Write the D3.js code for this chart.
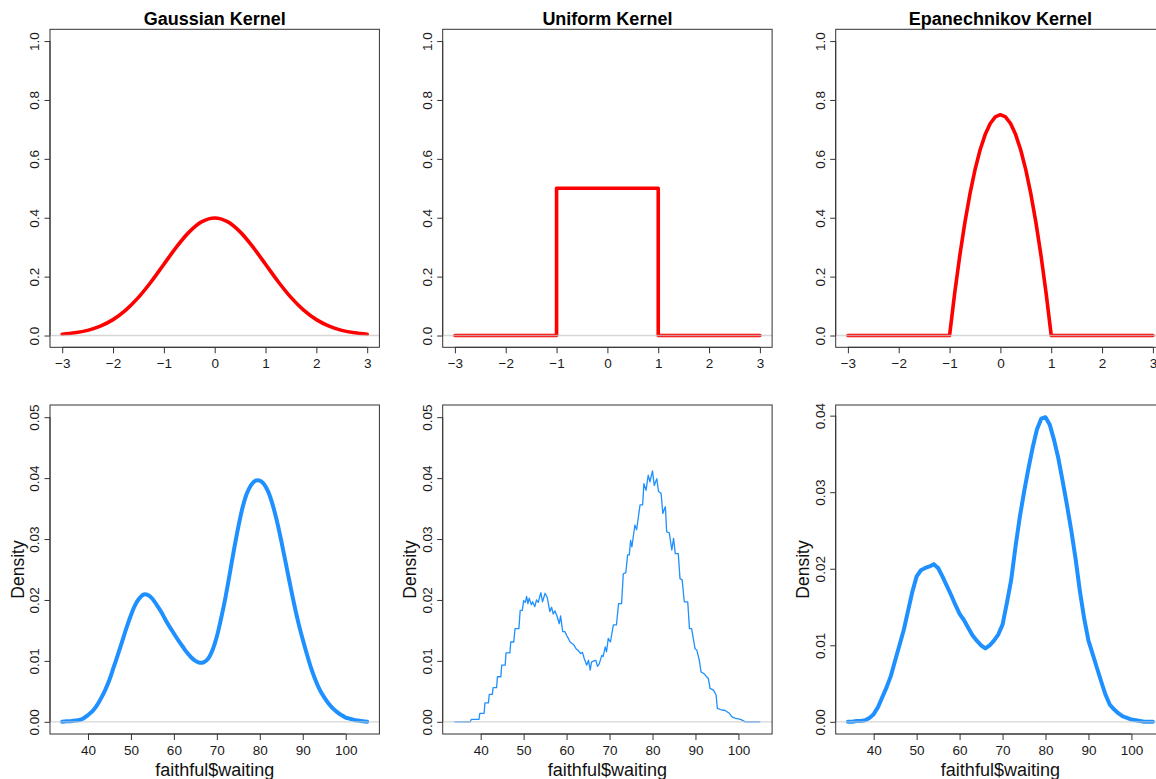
<!DOCTYPE html>
<html><head><meta charset="utf-8">
<script src="https://cdn.jsdelivr.net/npm/d3@7"></script>
<style>
html,body{margin:0;padding:0;background:#fff;}
svg{display:block;font-family:"Liberation Sans",Arial,Helvetica,sans-serif;}
</style></head>
<body><svg id="chart" width="1156" height="779"></svg>
<script>
// ---------- data ----------
const kernelTitles = ["Gaussian Kernel", "Uniform Kernel", "Epanechnikov Kernel"];
const kernelXTicks = [-3, -2, -1, 0, 1, 2, 3];
const kernelYTicks = [0, 0.2, 0.4, 0.6, 0.8, 1.0];
const kernelXLim = [-3, 3];
const kernelYLim = [0, 1];

const gaussKernelX = [-3,-2.75,-2.5,-2.25,-2,-1.75,-1.5,-1.25,-1,-0.75,-0.5,-0.25,0,0.25,0.5,0.75,1,1.25,1.5,1.75,2,2.25,2.5,2.75,3];
const gaussKernelY = [0.0044,0.0091,0.0175,0.0317,0.0540,0.0863,0.1295,0.1826,0.2420,0.3011,0.3521,0.3867,0.3989,0.3867,0.3521,0.3011,0.2420,0.1826,0.1295,0.0863,0.0540,0.0317,0.0175,0.0091,0.0044];

const uniformKernelX = [-3, -1, -1, 1, 1, 3];
const uniformKernelY = [0, 0, 0.5, 0.5, 0, 0];

const epanKernelX = [-3,-1,-0.9,-0.8,-0.7,-0.6,-0.5,-0.4,-0.3,-0.2,-0.1,0,0.1,0.2,0.3,0.4,0.5,0.6,0.7,0.8,0.9,1,3];
const epanKernelY = [0,0,0.1425,0.27,0.3825,0.48,0.5625,0.63,0.6825,0.72,0.7425,0.75,0.7425,0.72,0.6825,0.63,0.5625,0.48,0.3825,0.27,0.1425,0,0];

const waitingXTicks = [40, 50, 60, 70, 80, 90, 100];
const waitingXLim = [34, 105];
const densityYTicksA = [0, 0.01, 0.02, 0.03, 0.04, 0.05];
const densityYTicksB = [0, 0.01, 0.02, 0.03, 0.04];
const densityYLimA = [0, 0.05];
const densityYLimB = [0, 0.0398];

const gaussDensX = [34,35,36,37,38,39,40,41,42,43,44,45,46,47,48,49,50,51,52,53,54,55,56,57,58,59,60,61,62,63,64,65,66,67,68,69,70,71,72,73,74,75,76,77,78,79,80,81,82,83,84,85,86,87,88,89,90,91,92,93,94,95,96,97,98,99,100,101,102,103,104,105];
const gaussDensY = [0.0000,0.0001,0.0001,0.0002,0.0003,0.0006,0.0011,0.0017,0.0026,0.0038,0.0052,0.0069,0.0090,0.0111,0.0133,0.0155,0.0175,0.0192,0.0203,0.0209,0.0208,0.0202,0.0192,0.0181,0.0168,0.0156,0.0145,0.0134,0.0124,0.0114,0.0106,0.0100,0.0097,0.0098,0.0104,0.0118,0.0140,0.0170,0.0204,0.0243,0.0283,0.0320,0.0352,0.0375,0.0389,0.0396,0.0396,0.0390,0.0377,0.0356,0.0329,0.0297,0.0262,0.0227,0.0193,0.0162,0.0135,0.0110,0.0087,0.0068,0.0052,0.0040,0.0030,0.0022,0.0016,0.0011,0.0007,0.0005,0.0003,0.0002,0.0001,0.0000];

const uniformDensX = [34,37.6,37.8,39.6,39.8,40.8,41.0,41.8,42.0,42.7,42.9,43.7,43.9,44.7,44.9,45.7,45.9,46.8,47.0,47.7,48.0,48.9,49.2,49.7,50.0,50.4,50.7,51.0,51.3,51.8,52.1,52.6,53.0,53.4,54.0,54.4,55.0,55.5,56.1,56.5,56.9,57.3,57.7,58.3,58.6,59.1,59.6,60.0,60.4,60.8,61.2,61.6,62.2,62.7,63.3,63.7,64.1,64.7,65.1,65.5,65.8,66.3,66.8,67.2,67.6,68.2,68.5,69.0,69.3,69.7,70.2,70.9,71.6,72.1,72.8,73.2,73.8,74.2,74.6,74.9,75.2,75.9,76.3,77.1,77.7,78.0,78.5,79.0,79.4,80.0,80.4,81.0,81.4,82.0,82.4,82.8,83.0,83.3,83.9,84.5,84.9,85.3,86.0,86.4,86.9,87.4,88.2,88.6,89.1,89.9,90.3,90.9,91.3,92.0,92.6,93.0,93.4,94.2,94.8,95.1,96.3,96.8,97.9,98.5,99.2,100.5,101.6,105];
const uniformDensY = [0,0,0.0004,0.0004,0.0014,0.0014,0.0031,0.0031,0.0045,0.0045,0.0056,0.0056,0.0074,0.0074,0.0093,0.0093,0.0113,0.0113,0.0131,0.0131,0.0153,0.0153,0.0183,0.0183,0.0199,0.0196,0.0206,0.0194,0.0203,0.0192,0.0197,0.0189,0.0200,0.0196,0.0212,0.0197,0.0211,0.0204,0.0181,0.0188,0.0177,0.0182,0.0175,0.0161,0.0174,0.0148,0.0148,0.0142,0.0137,0.0131,0.0129,0.0127,0.0120,0.0117,0.0112,0.0114,0.0104,0.0093,0.0101,0.0085,0.0098,0.0100,0.0101,0.0091,0.0095,0.0109,0.0107,0.0123,0.0115,0.0137,0.0131,0.0159,0.0159,0.0194,0.0194,0.0243,0.0245,0.0274,0.0274,0.0298,0.0287,0.0323,0.0315,0.0356,0.0356,0.0391,0.0380,0.0405,0.0394,0.0412,0.0388,0.0399,0.0378,0.0375,0.0342,0.0350,0.0353,0.0312,0.0310,0.0282,0.0301,0.0276,0.0276,0.0235,0.0233,0.0197,0.0197,0.0153,0.0153,0.0120,0.0118,0.0101,0.0082,0.0079,0.0074,0.0071,0.0055,0.0052,0.0044,0.0022,0.0019,0.0019,0.0014,0.0008,0.0006,0.0004,0,0];

const epanDensX = [34,35,36,37,38,39,40,41,42,43,44,45,46,47,48,49,50,51,52,53,54,55,56,57,58,59,60,61,62,63,64,65,66,67,68,69,70,71,72,73,74,75,76,77,78,79,80,81,82,83,84,85,86,87,88,89,90,91,92,93,94,95,96,97,98,99,100,101,102,103,104,105];
const epanDensY = [0,0,0.0001,0.0001,0.0002,0.0005,0.0010,0.0019,0.0032,0.0045,0.0060,0.0080,0.0100,0.0120,0.0145,0.0170,0.0190,0.0198,0.0201,0.0203,0.0206,0.0201,0.0190,0.0178,0.0166,0.0153,0.0141,0.0133,0.0123,0.0113,0.0106,0.0100,0.0096,0.0100,0.0106,0.0114,0.0127,0.0155,0.0185,0.0228,0.0267,0.0300,0.0330,0.0358,0.0382,0.0396,0.0398,0.0388,0.0368,0.0344,0.0314,0.0283,0.0250,0.0213,0.0171,0.0135,0.0106,0.0088,0.0070,0.0052,0.0035,0.0022,0.0016,0.0011,0.0007,0.0005,0.0003,0.0002,0.0001,0,0,0];

// ---------- layout ----------
const svg = d3.select("#chart");
const colLeft = [50, 442.7, 835.7];
const panelW = 329.4;
const rowBox = [{top: 29.3, bottom: 347.3}, {top: 405, bottom: 734}];

function pad(lim) { const d = (lim[1] - lim[0]) * 0.04; return [lim[0] - d, lim[1] + d]; }
function zip(xs, ys) { return xs.map((x, i) => [x, ys[i]]); }
function fmtTick(dec) { return v => d3.format("." + dec + "f")(v).replace("-", "\u2212"); }

function panel(opts) {
  const L = opts.left, T = opts.top, B = opts.bottom, R = L + panelW;
  const x = d3.scaleLinear().domain(pad(opts.xlim)).range([L, R]);
  const y = d3.scaleLinear().domain(pad(opts.ylim)).range([B, T]);
  const g = svg.append("g");

  // x axis
  const xa = d3.axisBottom(x).tickValues(opts.xticks).tickSize(6).tickFormat(fmtTick(0));
  const gx = g.append("g").attr("transform", `translate(0,${B})`).call(xa);
  gx.select(".domain").attr("d", `M${x(opts.xticks[0])},0H${x(opts.xticks[opts.xticks.length-1])}`).attr("stroke", "#333");
  gx.selectAll(".tick line").attr("stroke", "#333");
  gx.selectAll(".tick text").attr("y", 20.5).attr("dy", null)
    .attr("font-size", 13.5).attr("fill", "#1a1a1a").attr("font-family", '"Liberation Sans",Arial,sans-serif');

  // y axis
  const ya = d3.axisLeft(y).tickValues(opts.yticks).tickSize(5.5).tickFormat(fmtTick(opts.ydec));
  const gy = g.append("g").attr("transform", `translate(${L},0)`).call(ya);
  gy.select(".domain").attr("d", `M0,${y(opts.yticks[0])}V${y(opts.yticks[opts.yticks.length-1])}`).attr("stroke", "#333");
  gy.selectAll(".tick line").attr("stroke", "#333");
  gy.selectAll(".tick text")
    .attr("x", null).attr("dy", null).attr("text-anchor", "middle")
    .attr("transform", "translate(-11,0) rotate(-90)")
    .attr("font-size", 13.5).attr("fill", "#1a1a1a").attr("font-family", '"Liberation Sans",Arial,sans-serif');

  // curve
  const line = d3.line().x(d => x(d[0])).y(d => y(d[1])).curve(opts.curve || d3.curveLinear);
  g.append("path").datum(opts.data).attr("d", line)
    .attr("fill", "none").attr("stroke", opts.color).attr("stroke-width", opts.lw)
    .attr("stroke-linejoin", "round").attr("stroke-linecap", "round");

  // zero line
  g.append("line").attr("x1", L).attr("x2", R).attr("y1", y(0)).attr("y2", y(0))
    .attr("stroke", "#c8c8c8").attr("stroke-width", 1.3).attr("stroke-opacity", 0.75);

  // box
  g.append("rect").attr("x", L).attr("y", T).attr("width", R - L).attr("height", B - T)
    .attr("fill", "none").attr("stroke", "#333").attr("stroke-width", 1);

  if (opts.title) {
    g.append("text").attr("x", (L + R) / 2).attr("y", 25).attr("text-anchor", "middle")
      .attr("font-size", 18).attr("font-weight", "bold").attr("fill", "#000").text(opts.title);
  }
  if (opts.xlab) {
    g.append("text").attr("x", (L + R) / 2).attr("y", 776).attr("text-anchor", "middle")
      .attr("font-size", 18).attr("fill", "#111").text(opts.xlab);
  }
  if (opts.ylab) {
    g.append("text").attr("transform", `translate(${L - 26.5},${(T + B) / 2}) rotate(-90)`)
      .attr("text-anchor", "middle").attr("font-size", 17.5).attr("fill", "#111").text(opts.ylab);
  }
}

const red = "#FF0000", blue = "#1E90FF";
const kernelData = [zip(gaussKernelX, gaussKernelY), zip(uniformKernelX, uniformKernelY), zip(epanKernelX, epanKernelY)];
const kernelCurves = [d3.curveCatmullRom, d3.curveLinear, d3.curveLinear];
kernelData.forEach((d, i) => panel({
  left: colLeft[i], top: rowBox[0].top, bottom: rowBox[0].bottom,
  xlim: kernelXLim, ylim: kernelYLim, xticks: kernelXTicks, yticks: kernelYTicks, ydec: 1,
  data: d, color: red, lw: 3.6, curve: kernelCurves[i], title: kernelTitles[i]
}));

const densData = [zip(gaussDensX, gaussDensY), zip(uniformDensX, uniformDensY), zip(epanDensX, epanDensY)];
const densYLims = [densityYLimA, densityYLimA, densityYLimB];
const densYTicks = [densityYTicksA, densityYTicksA, densityYTicksB];
const densLw = [4, 1.3, 4];
const densCurves = [d3.curveCatmullRom, d3.curveLinear, d3.curveLinear];
densData.forEach((d, i) => panel({
  left: colLeft[i], top: rowBox[1].top, bottom: rowBox[1].bottom,
  xlim: waitingXLim, ylim: densYLims[i], xticks: waitingXTicks, yticks: densYTicks[i], ydec: 2,
  data: d, color: blue, lw: densLw[i], curve: densCurves[i],
  xlab: "faithful$waiting", ylab: "Density"
}));
</script></body></html>
